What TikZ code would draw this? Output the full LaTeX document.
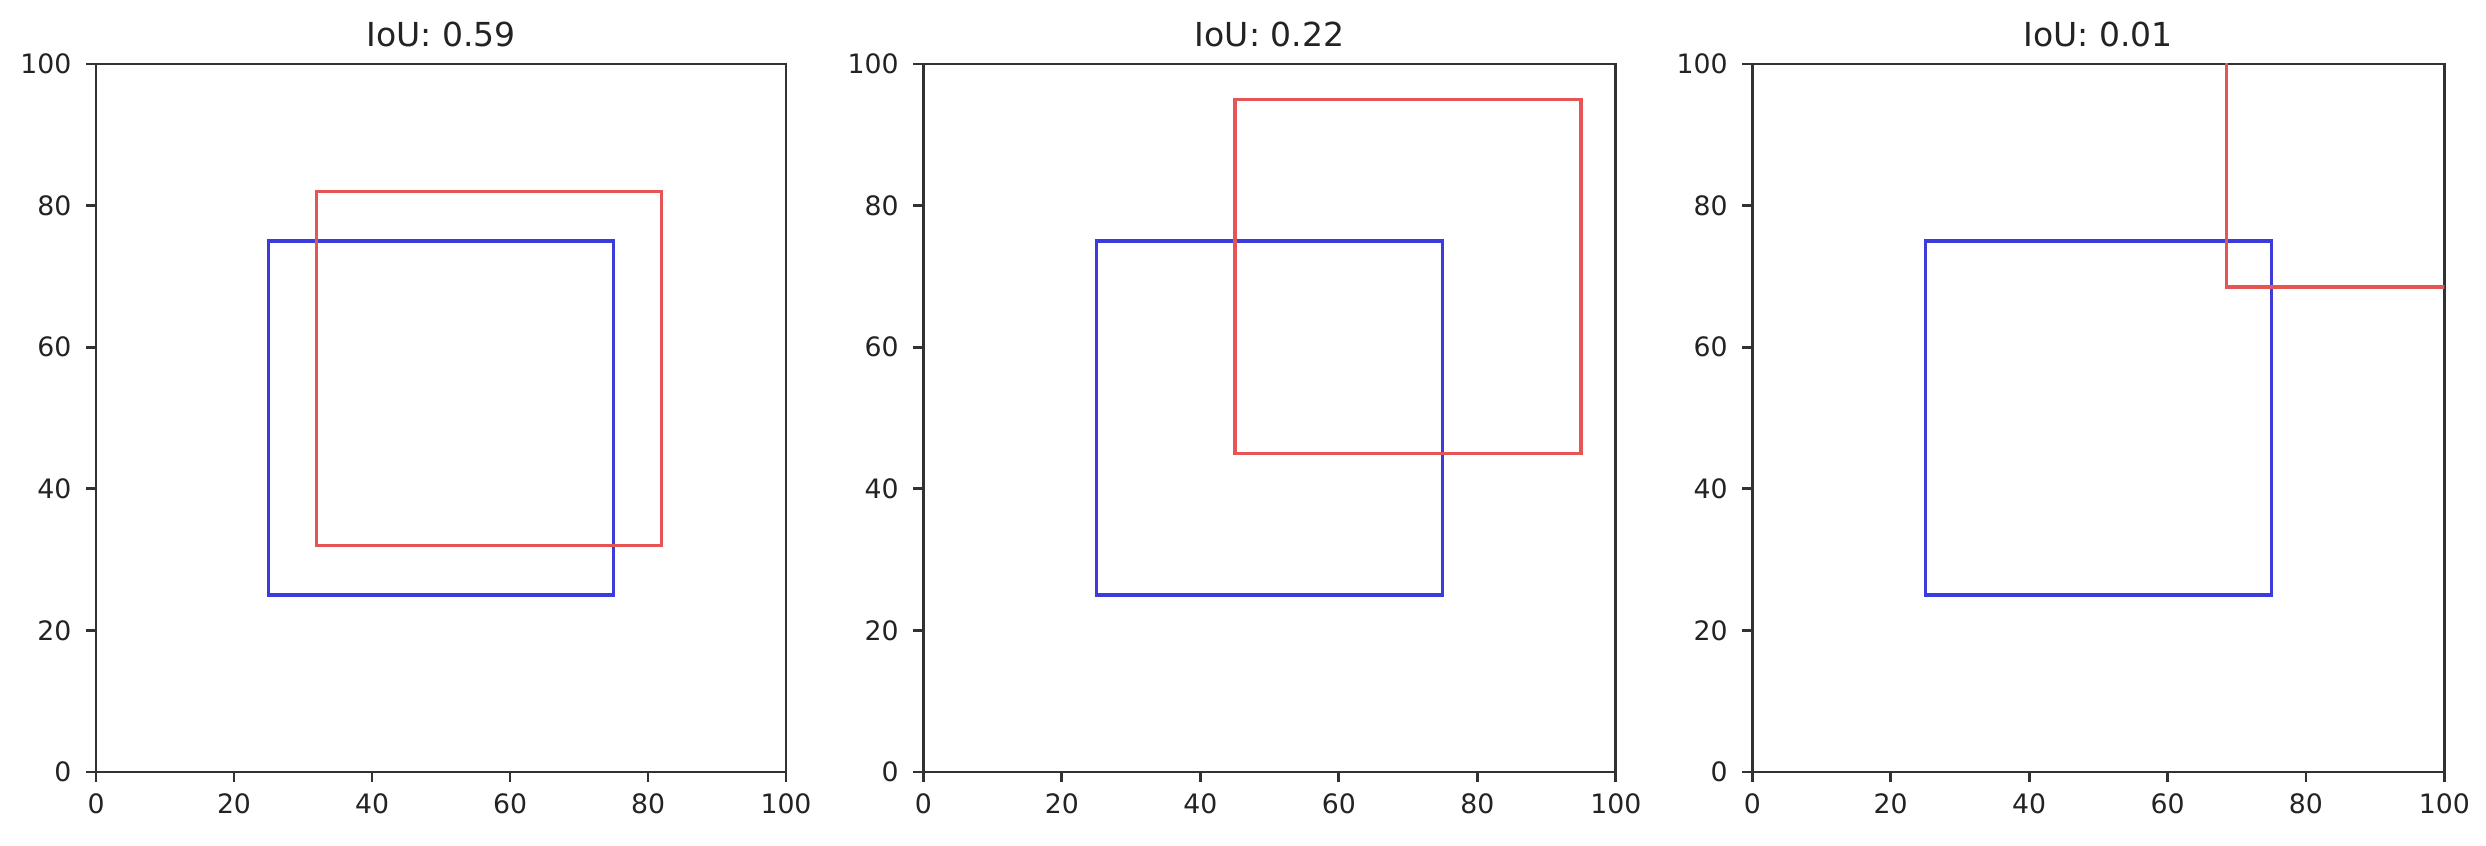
\documentclass[tikz,border=0pt]{standalone}
\usepackage{fontspec}
\setmainfont{DejaVu Sans}
\definecolor{axcol}{RGB}{50,50,50}
\definecolor{txtcol}{RGB}{35,35,35}
\definecolor{boxblue}{RGB}{60,60,220}
\definecolor{boxred}{RGB}{230,85,85}
\begin{document}
\begin{tikzpicture}
\useasboundingbox[fill=white] (0,0) rectangle (24.86,8.46);
\tikzset{
  spine/.style={draw=axcol, line width=0.8pt},
  tickline/.style={draw=axcol, line width=0.8pt},
  ticklab/.style={font=\fontsize{7.6pt}{9pt}\selectfont, text=txtcol, inner sep=0pt},
  ttl/.style={font=\fontsize{9.4pt}{11pt}\selectfont, text=txtcol, inner sep=0pt, anchor=base},
  gtbox/.style={draw=boxblue, line width=0.95pt},
  prbox/.style={draw=boxred, line width=0.95pt}
}
\foreach \i/\xs/\xu/\t in {1/0.96/0.0690/0.59, 2/9.233/0.06924/0.22, 3/17.523/0.0692/0.01}{
  \begin{scope}[xshift=\xs cm, yshift=0.74cm, x=\xu cm, y=0.0708cm]
    \coordinate (sw\i) at (0,0);
    \coordinate (ne\i) at (100,100);
    \draw[spine] (sw\i) rectangle (ne\i);
    \foreach \v in {0,20,40,60,80,100}{
      \coordinate (xt\i-\v) at (\v,0);
      \coordinate (yt\i-\v) at (0,\v);
      \draw[tickline] (xt\i-\v) -- ++(0,-0.1cm);
      \draw[tickline] (yt\i-\v) -- ++(-0.1cm,0);
      \node[ticklab, anchor=north, yshift=-0.21cm] (xl\i-\v) at (xt\i-\v) {\v};
      \node[ticklab, anchor=east, xshift=-0.24cm] (yl\i-\v) at (yt\i-\v) {\v};
    }
    \node[ttl, yshift=0.173cm] (title\i) at (50,100) {IoU: \t};
  \end{scope}
}
% plot 1
\begin{scope}[xshift=0.96cm, yshift=0.74cm, x=0.0690cm, y=0.0708cm]
  \draw[gtbox] (25,25) rectangle (75,75);
  \draw[prbox] (32,32) rectangle (82,82);
\end{scope}
% plot 2
\begin{scope}[xshift=9.233cm, yshift=0.74cm, x=0.06924cm, y=0.0708cm]
  \draw[gtbox] (25,25) rectangle (75,75);
  \draw[prbox] (45,45) rectangle (95,95);
\end{scope}
% plot 3
\begin{scope}[xshift=17.523cm, yshift=0.74cm, x=0.0692cm, y=0.0708cm]
  \draw[gtbox] (25,25) rectangle (75,75);
  \begin{scope}
    \clip (0,0) rectangle (100,100);
    \draw[prbox] (68.5,68.5) rectangle (118.5,118.5);
  \end{scope}
\end{scope}
\end{tikzpicture}
\end{document}
